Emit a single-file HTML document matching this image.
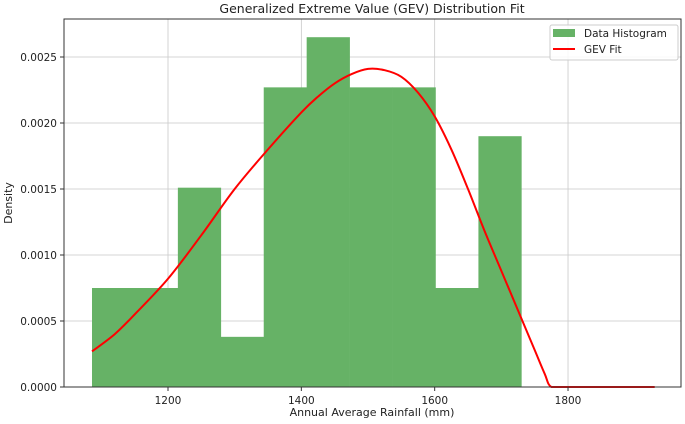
<!DOCTYPE html>
<html><head><meta charset="utf-8"><style>
body{margin:0;background:#fff;}
svg{display:block;font-family:"DejaVu Sans","Liberation Sans",sans-serif;}
</style></head><body>
<svg id="c" width="685" height="424"></svg>
<script>
const binStart = 1086;
const binWidth = 64.4;
const binDensities = [0.00075,0.00075,0.00151,0.00038,0.00227,0.00265,0.00227,0.00227,0.00075,0.0019];
const curveX = [1086,1120,1150,1200,1250,1300,1350,1400,1425,1450,1475,1500,1525,1550,1575,1600,1625,1650,1675,1700,1730,1750,1765,1775,1800,1850,1930];
const curveY = [0.00027,0.00040,0.00055,0.00082,0.00115,0.00150,0.00180,0.00208,0.00220,0.00230,0.00237,0.00241,0.00240,0.00235,0.00223,0.00205,0.00180,0.00150,0.00118,0.00088,0.00052,0.00028,0.00010,0.0,0.0,0.0,0.0];
const xTicks = [1200,1400,1600,1800];
const yTicks = [0,0.0005,0.0010,0.0015,0.0020,0.0025];
const L=64,R=681,T=19,B=387;
const sx=v=>168+(v-1200)*0.6667;
const sy=v=>B-v*132000;
const svg=document.getElementById('c');
const NS='http://www.w3.org/2000/svg';
function mk(tag,attrs,parent){const e=document.createElementNS(NS,tag);for(const k in attrs)e.setAttribute(k,attrs[k]);(parent||svg).appendChild(e);return e;}
xTicks.forEach(t=>{const g=mk('line',{x1:sx(t),x2:sx(t),y1:T,y2:B,stroke:'#c8c8c8','stroke-width':0.8});

});
yTicks.forEach(t=>{const g=mk('line',{x1:L,x2:R,y1:sy(t),y2:sy(t),stroke:'#c8c8c8','stroke-width':0.8});

});
binDensities.forEach((d,i)=>{const x0=sx(binStart+i*binWidth),x1=sx(binStart+(i+1)*binWidth);
const r=mk('rect',{x:x0,y:sy(d),width:x1-x0+0.3,height:B-sy(d),fill:'#66b266'});

});
// smooth curve (Catmull-Rom)
const pts=curveX.map((x,i)=>[sx(x),sy(curveY[i])]);
let d='M'+pts[0][0]+','+pts[0][1];
for(let i=0;i<pts.length-1;i++){const p0=pts[Math.max(0,i-1)],p1=pts[i],p2=pts[i+1],p3=pts[Math.min(pts.length-1,i+2)];
const c1=[p1[0]+(p2[0]-p0[0])/6,Math.min(B,p1[1]+(p2[1]-p0[1])/6)],c2=[p2[0]-(p3[0]-p1[0])/6,Math.min(B,p2[1]-(p3[1]-p1[1])/6)];
d+=' C'+c1.join(',')+' '+c2.join(',')+' '+p2.join(',');}
const p=mk('path',{d:d,fill:'none',stroke:'#ff0000','stroke-width':2});


const f=mk('rect',{x:L,y:T,width:R-L,height:B-T,fill:'none',stroke:'#333','stroke-width':1});


xTicks.forEach(t=>{mk('line',{x1:sx(t),x2:sx(t),y1:B,y2:B+4,stroke:'#333'});
const tx=mk('text',{x:sx(t),y:B+17,'font-size':10.5,'text-anchor':'middle',fill:'#222'});tx.textContent=t;

});
yTicks.forEach(t=>{mk('line',{x1:L-4,x2:L,y1:sy(t),y2:sy(t),stroke:'#333'});
const tx=mk('text',{x:L-7,y:sy(t)+4,'font-size':10.5,'text-anchor':'end',fill:'#222'});tx.textContent=t.toFixed(4);

});
</script>
<script>
(function(){const svg=document.getElementById('c');const NS='http://www.w3.org/2000/svg';
function mk(tag,attrs){const e=document.createElementNS(NS,tag);for(const k in attrs)e.setAttribute(k,attrs[k]);svg.appendChild(e);return e;}
let t=mk('text',{x:372,y:13,'font-size':12.5,'text-anchor':'middle',fill:'#222'});t.textContent='Generalized Extreme Value (GEV) Distribution Fit';


t=mk('text',{x:372,y:416,'font-size':11,'text-anchor':'middle',fill:'#222'});t.textContent='Annual Average Rainfall (mm)';


t=mk('text',{x:12,y:203,'font-size':11,'text-anchor':'middle',fill:'#222',transform:'rotate(-90 12 203)'});t.textContent='Density';


const lg=mk('rect',{x:550,y:25,width:128,height:35,fill:'#fff','fill-opacity':0.85,stroke:'#ccc',rx:2});


const s1=mk('rect',{x:553,y:29,width:22,height:8,fill:'#66b266'});


t=mk('text',{x:584,y:37,'font-size':10.5,fill:'#222'});t.textContent='Data Histogram';


const s2=mk('line',{x1:553,x2:575,y1:49,y2:49,stroke:'#ff0000','stroke-width':2});


t=mk('text',{x:584,y:53,'font-size':10.5,fill:'#222'});t.textContent='GEV Fit';


})();
</script>
</body></html>
